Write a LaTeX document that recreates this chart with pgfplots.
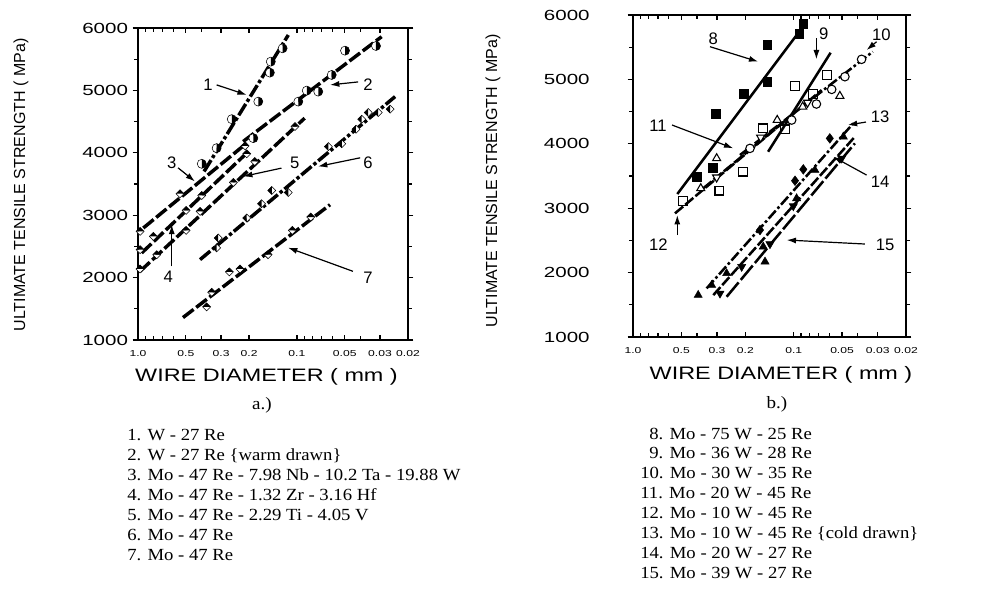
\documentclass[border=0pt]{standalone}
\usepackage{fontspec}
\setmainfont{Liberation Serif}
\setsansfont{Liberation Sans}
\newfontfamily\tickfont[FakeStretch=1.4]{Liberation Sans}
\newfontfamily\widefont[FakeStretch=1.3]{Liberation Sans}
\newfontfamily\legfont[FakeStretch=1.1]{Liberation Serif}
\usepackage{pgfplots}
\pgfplotsset{compat=1.18}
\usetikzlibrary{arrows.meta,plotmarks}

\pgfplotsset{
  ldash/.style={black, line width=2.6pt, dash pattern=on 10pt off 2.5pt},
  ldashdot/.style={black, line width=2.6pt, dash pattern=on 10pt off 2pt on 2.5pt off 2pt},
  lsolid/.style={black, line width=1.9pt},
  lthin/.style={black, line width=1.9pt, dash pattern=on 8pt off 2pt},
  lthindot/.style={black, line width=1.9pt, dash pattern=on 8pt off 2pt on 2pt off 2pt},
}
\tikzset{
  arr/.style={-{Latex[length=7pt,width=4.5pt]}, line width=0.9pt},
  num/.style={font=\sffamily\fontsize{12.5}{14}\selectfont, inner sep=0pt},
}

\begin{document}
\begin{tikzpicture}
\useasboundingbox (0pt,0pt) rectangle (753pt,-450.75pt);

% ---- a.) ----
\begin{axis}[
    scale only axis, clip=false,
    width=202.5pt, height=234pt, at={(103.5pt,-255pt)}, anchor=south west,
    xmode=log, x dir=reverse,
    xmin=0.02, xmax=1, ymin=1000, ymax=6000,
    xtick={1,0.5,0.3,0.2,0.1,0.05,0.03,0.02},
    xticklabels={1.0,0.5,0.3,0.2,0.1,0.05,0.03,0.02},
    minor xtick={0.9,0.8,0.7,0.6,0.4,0.09,0.08,0.07,0.06,0.04},
    ytick={1000,2000,3000,4000,5000,6000},
    minor ytick={1500,2500,3500,4500,5500},
    xtick align=inside, ytick align=outside,
    major tick length=4pt, minor tick length=3pt,
    axis line style={line width=1.5pt},
    every tick/.append style={black, line width=0.9pt},
    /pgf/number format/assume math mode=true,
    /pgf/number format/1000 sep={},
    yticklabel style={font=\tickfont\fontsize{11}{13}\selectfont},
    xticklabel style={font=\tickfont\fontsize{6.5}{8}\selectfont, yshift=-4.5pt},
]
  % 1  W-27Re
  \addplot[ldashdot] coordinates {(0.384,3701) (0.1133,5888)};
  \addplot[only marks, black, mark=halfcircle*, mark size=3.4pt, mark options={solid, rotate=90, fill=white, mark color=black}]
    coordinates {(0.123,5675) (0.146,5461) (0.148,5285) (0.175,4821) (0.257,4539) (0.320,4075) (0.397,3824)};
  % 2  W-27Re warm drawn
  \addplot[ldash] coordinates {(0.218,4181) (0.0293,5861)};
  \addplot[only marks, black, mark=halfcircle*, mark size=3.4pt, mark options={solid, rotate=90, fill=white, mark color=black}]
    coordinates {(0.188,4235) (0.0980,4821) (0.0867,4997) (0.0734,4981) (0.0604,5248) (0.0498,5637) (0.0318,5712)};
  % 3
  \addplot[ldash] coordinates {(0.926,2795) (0.207,4155)};
  \addplot[only marks, black, mark=halfsquare*, mark size=3pt, mark options={solid, fill=white, mark color=black}]
    coordinates {(0.971,2741) (0.544,3344) (0.212,4112)};
  % 4
  \addplot[ldash] coordinates {(0.948,2395) (0.197,4048)};
  \addplot[only marks, black, mark=halfsquare*, mark size=3pt, mark options={solid, fill=white, mark color=black}]
    coordinates {(0.971,2448) (0.801,2661) (0.498,3077) (0.397,3317) (0.207,3984)};
  % 5
  \addplot[ldash] coordinates {(0.971,2101) (0.0894,4555)};
  \addplot[only marks, black, mark=halfsquare*, mark size=3pt, mark options={solid, fill=white, mark color=black}]
    coordinates {(0.971,2139) (0.762,2368) (0.498,2757) (0.407,3061) (0.251,3525) (0.184,3861) (0.1028,4421)};
  % 6
  \addplot[ldashdot] coordinates {(0.407,2288) (0.0241,4901)};
  \addplot[only marks, black, mark=halfsquare right*, mark size=3pt, mark options={solid, fill=white, mark color=black}]
    coordinates {(0.313,2635) (0.320,2475) (0.207,2955) (0.167,3184) (0.144,3397) (0.1133,3365) (0.0634,4101)
                 (0.0522,4144) (0.0425,4379) (0.0391,4539) (0.0356,4645) (0.0308,4645) (0.0259,4699)};
  % 7
  \addplot[ldash] coordinates {(0.521,1360) (0.0619,3168)};
  \addplot[only marks, black, mark=halfsquare*, mark size=3pt, mark options={solid, fill=white, mark color=black}]
    coordinates {(0.370,1531) (0.344,1765) (0.266,2091) (0.228,2139) (0.152,2368) (0.1069,2757) (0.0819,2971)};

  % labels
  \node[num] at (axis cs:0.363,5088) {1};
  \draw[arr] (axis cs:0.320,5088) -- (axis cs:0.207,4928);
  \node[num] at (axis cs:0.0357,5088) {2};
  \draw[arr] (axis cs:0.0412,5136) -- (axis cs:0.0619,5088);
  \node[num] at (axis cs:0.613,3835) {3};
  \draw[arr] (axis cs:0.560,3760) -- (axis cs:0.438,3541);
  \node[num] at (axis cs:0.645,2021) {4};
  \draw[arr] (axis cs:0.613,2181) -- (axis cs:0.613,2848);
  \node[num] at (axis cs:0.103,3840) {5};
  \draw[arr] (axis cs:0.125,3755) -- (axis cs:0.218,3621);
  \node[num] at (axis cs:0.0357,3840) {6};
  \draw[arr] (axis cs:0.0400,3920) -- (axis cs:0.0737,3781);
  \node[num] at (axis cs:0.0357,2000) {7};
  \draw[arr] (axis cs:0.0444,2101) -- (axis cs:0.1138,2480);
\end{axis}

% ---- b.) ----
\begin{axis}[
    scale only axis, clip=false,
    width=204.75pt, height=241.5pt, at={(474.75pt,-252.75pt)}, anchor=south west,
    xmode=log, x dir=reverse,
    xmin=0.02, xmax=1, ymin=1000, ymax=6000,
    xtick={1,0.5,0.3,0.2,0.1,0.05,0.03,0.02},
    xticklabels={1.0,0.5,0.3,0.2,0.1,0.05,0.03,0.02},
    minor xtick={0.9,0.8,0.7,0.6,0.4,0.09,0.08,0.07,0.06,0.04},
    ytick={1000,2000,3000,4000,5000,6000},
    minor ytick={1500,2500,3500,4500,5500},
    xtick align=inside, ytick align=outside,
    major tick length=4pt, minor tick length=3pt,
    axis line style={line width=1.5pt},
    every tick/.append style={black, line width=0.9pt},
    /pgf/number format/assume math mode=true,
    /pgf/number format/1000 sep={},
    yticklabel style={font=\tickfont\fontsize{11}{13}\selectfont, xshift=-25pt},
    xticklabel style={font=\tickfont\fontsize{6.5}{8}\selectfont, yshift=-4.5pt},
]
  % 8
  \addplot[lsolid] coordinates {(0.530,3220) (0.0830,5896)};
  \addplot[only marks, black, mark=square*, mark size=3.3pt, mark options={solid}]
    coordinates {(0.0871,5860) (0.0923,5715) (0.1459,5534) (0.1459,4965) (0.2039,4783) (0.3045,4462) (0.3193,3634) (0.4015,3489)};
  % 9
  \addplot[lsolid] coordinates {(0.1443,3877) (0.0589,5415)};
  \addplot[only marks, black, mark=square, mark size=3.3pt, mark options={solid, line width=0.9pt}]
    coordinates {(0.0618,5068) (0.0981,4897) (0.0761,4773) (0.1547,4240) (0.1133,4224) (0.2073,3567) (0.2901,3272) (0.4870,3116)};
  % 10
  \addplot[lthindot] coordinates {(0.2158,3826) (0.0322,5430)};
  \addplot[only marks, black, mark=*, mark size=3.2pt, mark options={solid, line width=0.8pt, fill=white}]
    coordinates {(0.0378,5312) (0.0480,5042) (0.0580,4845) (0.0722,4618) (0.1029,4369) (0.1871,3929)};
  % 11
  \addplot[lthin] coordinates {(0.3653,3309) (0.0792,4680)};
  \addplot[only marks, black, mark=triangle*, mark size=3.5pt, mark options={solid, line width=0.8pt, fill=white}]
    coordinates {(0.3787,3308) (0.3016,3774) (0.1266,4369) (0.0879,4576) (0.0516,4742)};
  % 12
  \addplot[lthin] coordinates {(0.5479,2920) (0.0670,4835)};
  \addplot[only marks, black, mark=triangle*, mark size=3.5pt, mark options={solid, rotate=180, line width=0.8pt, fill=white}]
    coordinates {(0.3016,3479) (0.1606,4100) (0.0820,4640)};
  % 13
  \addplot[lthindot] coordinates {(0.3481,1755) (0.0426,4317)};
  \addplot[only marks, black, mark=diamond*, mark size=3.6pt, mark options={solid}]
    coordinates {(0.0596,4084) (0.0871,3603) (0.0981,3427) (0.1621,2661)};
  % 14
  \addplot[lthin] coordinates {(0.3164,1651) (0.0416,4110)};
  \addplot[only marks, black, mark=triangle*, mark size=3.5pt, mark options={solid}]
    coordinates {(0.0491,4110) (0.0738,3592) (0.0959,3152) (0.1547,2402) (0.1508,2169) (0.2614,1988) (0.3239,1806) (0.3929,1651)};
  % 15
  \addplot[black, line width=1.9pt, dash pattern=on 14pt off 2.5pt] coordinates {(0.2614,1625) (0.0416,4007)};
  \addplot[only marks, black, mark=triangle*, mark size=3.5pt, mark options={solid, rotate=180}]
    coordinates {(0.0503,3774) (0.1005,3033) (0.1405,2443) (0.2107,2091) (0.2875,1677)};

  % labels
  \node[num] at (axis cs:0.3164,5638) {8};
  \draw[arr] (axis cs:0.3318,5508) -- (axis cs:0.1662,5275);
  \node[num] at (axis cs:0.0650,5716) {9};
  \draw[arr] (axis cs:0.0722,5640) -- (axis cs:0.0722,5312);
  \node[num] at (axis cs:0.0285,5689) {10};
  \draw[arr] (axis cs:0.0305,5585) -- (axis cs:0.0352,5456);
  \node[num] at (axis cs:0.699,4276) {11};
  \draw[arr] (axis cs:0.5719,4292) -- (axis cs:0.2376,3930);
  \node[num] at (axis cs:0.695,2428) {12};
  \draw[arr] (axis cs:0.530,2583) -- (axis cs:0.530,2894);
  \node[num] at (axis cs:0.0290,4421) {13};
  \draw[arr] (axis cs:0.0355,4338) -- (axis cs:0.0460,4292);
  \node[num] at (axis cs:0.0290,3411) {14};
  \draw[arr] (axis cs:0.0352,3515) -- (axis cs:0.0568,3799);
  \node[num] at (axis cs:0.0270,2428) {15};
  \draw[arr] (axis cs:0.0361,2444) -- (axis cs:0.1106,2506);
\end{axis}

\begin{scope}[x=0.75pt,y=-0.75pt]
  \node[rotate=90, font=\sffamily\fontsize{12}{14}\selectfont] at (21,185) {ULTIMATE TENSILE STRENGTH ( MPa)};
  \node[rotate=90, font=\sffamily\fontsize{12}{14}\selectfont] at (493,181) {ULTIMATE TENSILE STRENGTH ( MPa)};
  \node[font=\widefont\fontsize{13.5}{16}\selectfont] at (266.5,377) {WIRE DIAMETER ( mm )};
  \node[font=\widefont\fontsize{13.5}{16}\selectfont] at (781,375) {WIRE DIAMETER ( mm )};
  \node[font=\legfont\fontsize{13}{15}\selectfont] at (262,405) {a.)};
  \node[font=\legfont\fontsize{13}{15}\selectfont] at (777,404) {b.)};
  \begin{scope}[every node/.style={anchor=base west, inner sep=0pt, font=\legfont\fontsize{12.75}{15}\selectfont}]
    \node at (127,440) {1. W - 27 Re};
    \node at (127,460) {2. W - 27 Re \{warm drawn\}};
    \node at (127,480) {3. Mo - 47 Re - 7.98 Nb - 10.2 Ta - 19.88 W};
    \node at (127,500) {4. Mo - 47 Re - 1.32 Zr - 3.16 Hf};
    \node at (127,520) {5. Mo - 47 Re - 2.29 Ti - 4.05 V};
    \node at (127,540) {6. Mo - 47 Re};
    \node at (127,560) {7. Mo - 47 Re};
    \node at (649,439) {8. Mo - 75 W - 25 Re};
    \node at (649,458.9) {9. Mo - 36 W - 28 Re};
    \node at (640,478.7) {10. Mo - 30 W - 35 Re};
    \node at (640,498.6) {11. Mo - 20 W - 45 Re};
    \node at (640,518.4) {12. Mo - 10 W - 45 Re};
    \node at (640,538.3) {13. Mo - 10 W - 45 Re \{cold drawn\}};
    \node at (640,558.2) {14. Mo - 20 W - 27 Re};
    \node at (640,578) {15. Mo - 39 W - 27 Re};
  \end{scope}
\end{scope}
\end{tikzpicture}
\end{document}
